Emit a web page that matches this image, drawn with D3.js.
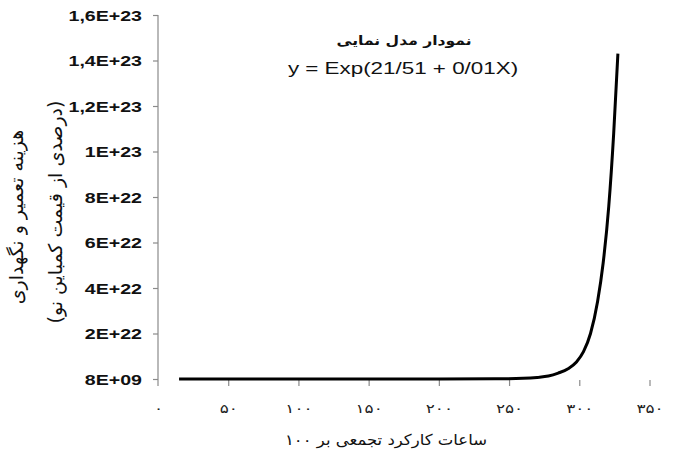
<!DOCTYPE html>
<html>
<head>
<meta charset="utf-8">
<script src="https://cdn.jsdelivr.net/npm/d3@7"></script>
<style>
  html, body { margin: 0; padding: 0; background: #fff; }
  svg { display: block; }
</style>
</head>
<body>
<svg id="chart" width="677" height="453"></svg>
<script>
// Cumulative working hours (per 100) and the modelled repair & maintenance cost
const hours = [15, 50, 100, 150, 200, 240, 260, 270, 278, 285, 292, 298, 303, 308, 313, 317, 321, 324.5, 327.5];
const cost  = [1e10, 3e11, 5e13, 7e15, 1e18, 6e19, 3e20, 7e20, 1.3e21, 2.6e21, 4.5e21, 7.5e21, 1.2e22, 2.0e22, 3.4e22, 5.1e22, 7.6e22, 1.08e23, 1.43e23];

const xTickValues = [0, 50, 100, 150, 200, 250, 300, 350];
const xTickLabels = ["۰", "۵۰", "۱۰۰", "۱۵۰", "۲۰۰", "۲۵۰", "۳۰۰", "۳۵۰"];
const yTickValues = [8e9, 2e22, 4e22, 6e22, 8e22, 1e23, 1.2e23, 1.4e23, 1.6e23];
const yTickLabels = ["8E+09", "2E+22", "4E+22", "6E+22", "8E+22", "1E+23", "1,2E+23", "1,4E+23", "1,6E+23"];

const titleLines = ["نمودار مدل نمایی", "y = Exp(21/51 + 0/01X)"];
const xTitle = "ساعات کارکرد تجمعی بر ۱۰۰";
const yTitleLines = ["هزینه تعمیر و نگهداری", "(درصدی از قیمت کمباین نو)"];

const SX = 1.4; // horizontal text stretch
const latin = "'Liberation Sans', Arial, sans-serif";
const persian = "'DejaVu Sans', 'Noto Sans', sans-serif";

const svg = d3.select("#chart");

const plot = { left: 158, right: 649.5, top: 15, bottom: 379 };

const x = d3.scaleLinear().domain([0, 350]).range([plot.left, plot.right]);
const y = d3.scaleLinear().domain([8e9, 1.6e23]).range([plot.bottom, plot.top]);

// Y axis
const yAxis = svg.append("g")
  .attr("transform", `translate(${plot.left},0)`)
  .call(d3.axisLeft(y).tickValues(yTickValues).tickSize(5).tickPadding(0)
        .tickFormat((d, i) => yTickLabels[i]));
yAxis.select(".domain").remove();
yAxis.append("line")
  .attr("x1", 0).attr("x2", 0).attr("y1", plot.top).attr("y2", 386)
  .attr("stroke", "#8a8a8a").attr("stroke-width", 1.2);
yAxis.selectAll(".tick line").attr("stroke", "#8a8a8a").attr("stroke-width", 1.2);
yAxis.selectAll(".tick text")
  .attr("x", -16 / SX)
  .attr("dy", "0.36em")
  .attr("transform", `scale(${SX},1)`)
  .style("font-family", latin)
  .style("font-size", "14px")
  .style("font-weight", "bold")
  .attr("fill", "#111");

// X axis (ticks only)
const xAxis = svg.append("g")
  .attr("transform", `translate(0,${plot.bottom + 1})`)
  .call(d3.axisBottom(x).tickValues(xTickValues).tickSize(6).tickPadding(0)
        .tickFormat((d, i) => xTickLabels[i]));
xAxis.select(".domain").remove();
xAxis.selectAll(".tick line").attr("stroke", "#8a8a8a").attr("stroke-width", 1.2)
  .filter(d => d === 0).remove();
xAxis.selectAll(".tick text")
  .attr("y", 0)
  .attr("dy", "0.35em")
  .attr("direction", "rtl")
  .attr("transform", `translate(0,28) scale(1.3,1)`)
  .style("font-family", persian)
  .style("font-size", "13px")
  .attr("fill", "#222");

// Curve
const pts = hours.map((h, i) => [h, cost[i]]);
svg.append("path")
  .datum(pts)
  .attr("fill", "none")
  .attr("stroke", "#000")
  .attr("stroke-width", 3)
  .attr("stroke-linejoin", "round")
  .attr("d", d3.line().x(d => x(d[0])).y(d => y(d[1])).curve(d3.curveMonotoneX));

// Title
svg.append("text")
  .attr("transform", `translate(404,40) scale(1.2,1)`)
  .attr("text-anchor", "middle").attr("dy", "0.35em").attr("direction", "rtl")
  .style("font-family", persian).style("font-size", "13px").style("font-weight", "bold")
  .attr("fill", "#111")
  .text(titleLines[0]);
svg.append("text")
  .attr("transform", `translate(403,68) scale(${SX},1)`)
  .attr("text-anchor", "middle").attr("dy", "0.35em")
  .style("font-family", latin).style("font-size", "16px")
  .attr("fill", "#111")
  .text(titleLines[1]);

// X axis title
svg.append("text")
  .attr("transform", `translate(386,440) scale(1.1,1)`)
  .attr("text-anchor", "middle").attr("dy", "0.35em").attr("direction", "rtl")
  .style("font-family", persian).style("font-size", "15px")
  .attr("fill", "#111")
  .text(xTitle);

// Y axis title (two lines)
[[16, 217], [55, 212]].forEach((p, i) => {
  svg.append("text")
    .attr("transform", `translate(${p[0]},${p[1]}) rotate(-90)`)
    .attr("text-anchor", "middle").attr("dy", "0.35em").attr("direction", "rtl")
    .style("font-family", persian).style("font-size", "19px")
    .attr("fill", "#111")
    .text(yTitleLines[i]);
});
</script>
</body>
</html>
